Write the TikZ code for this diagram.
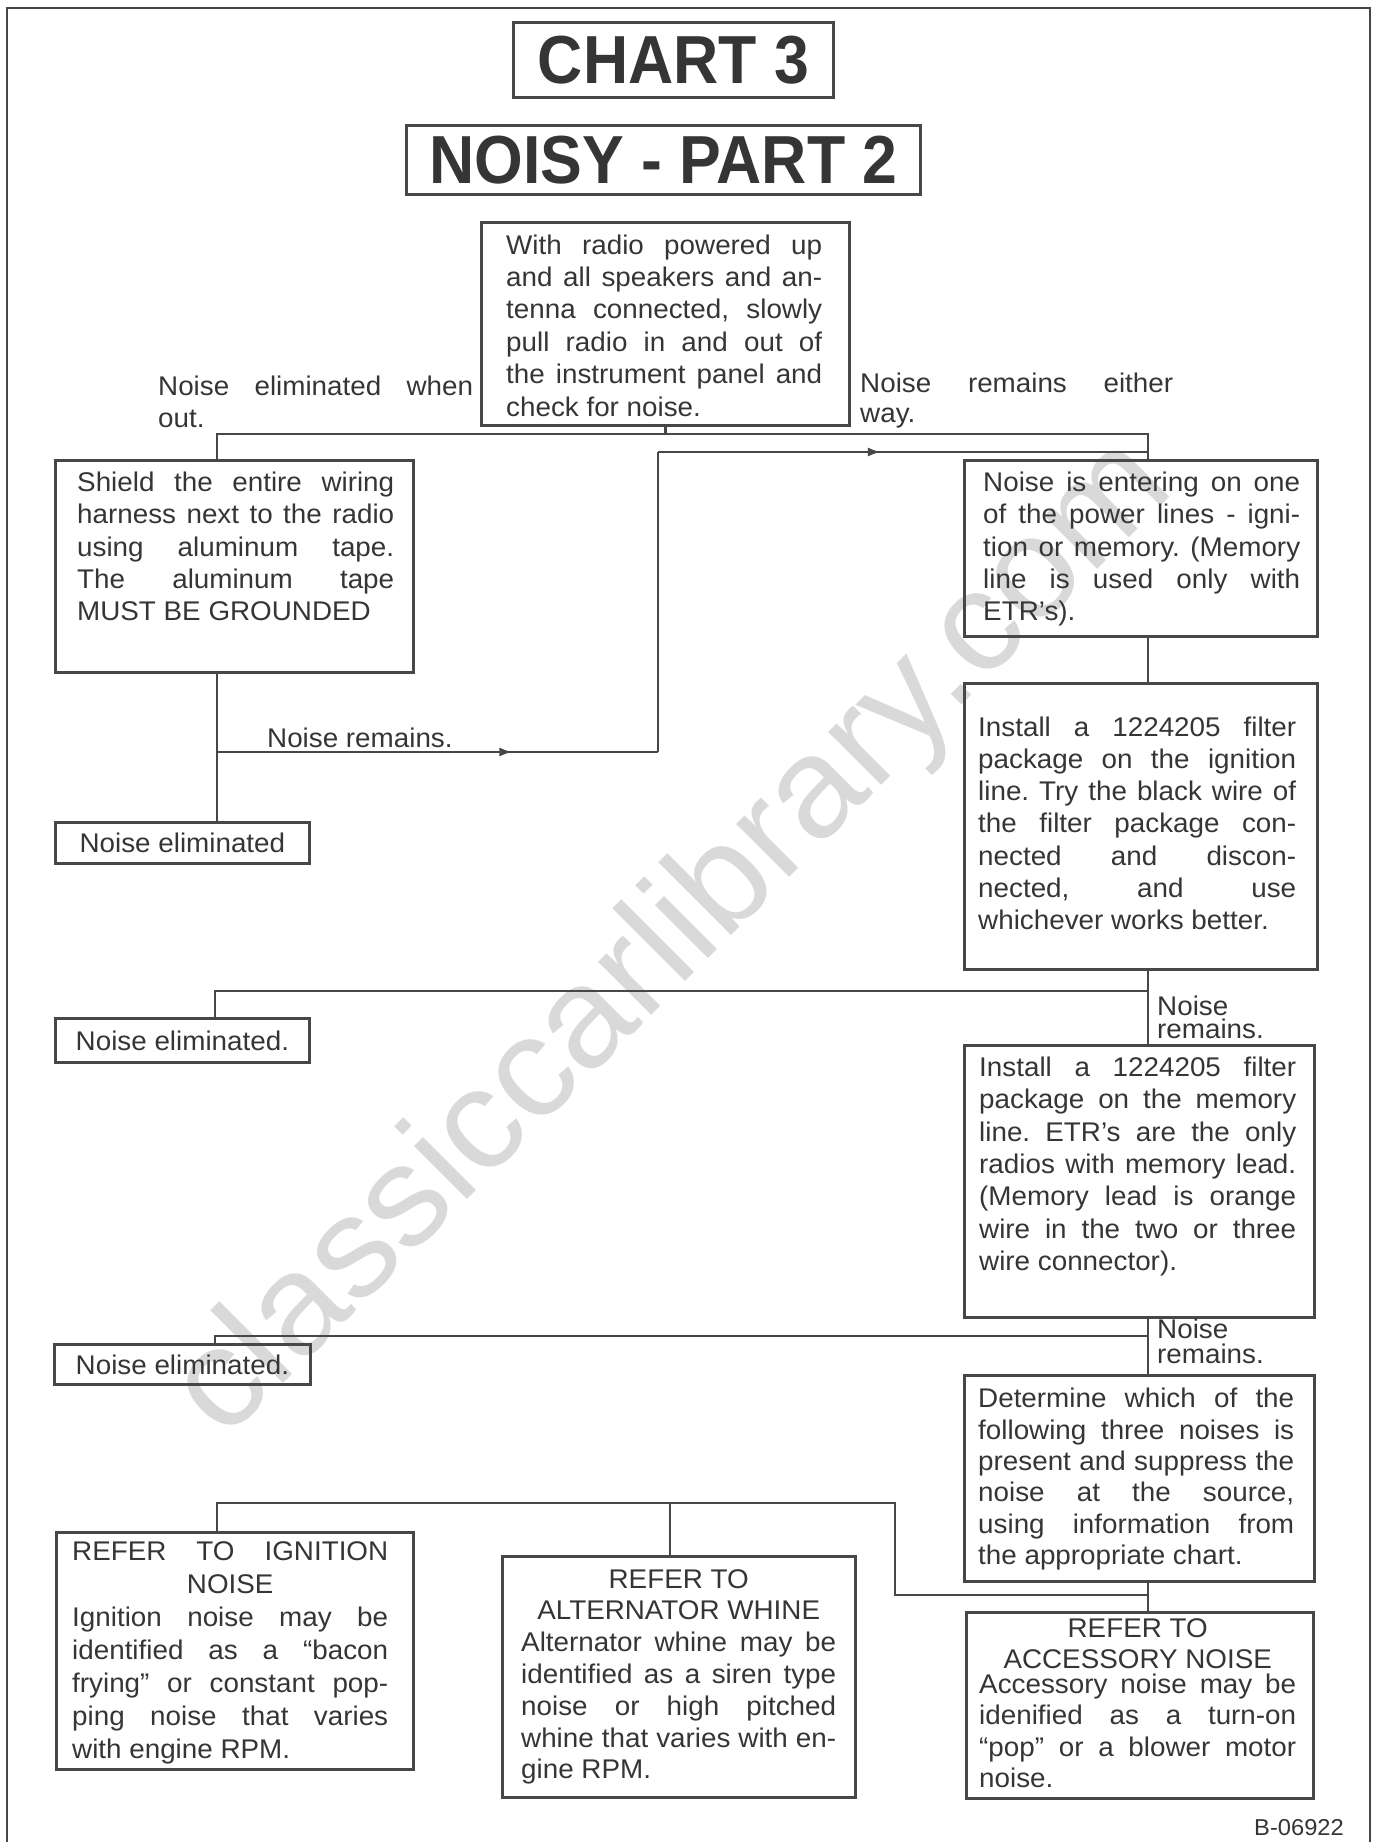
\documentclass[tikz,border=0pt]{standalone}
\usepackage{fontspec}
\setmainfont{Liberation Sans}[FakeStretch=1.03]
\newfontfamily\titlefam{Liberation Sans}[FakeStretch=0.92]
\usetikzlibrary{arrows.meta,decorations.markings}
\definecolor{ink}{HTML}{353535}
\definecolor{rule}{HTML}{474747}
\definecolor{wmark}{HTML}{D9D9D9}
\newcommand\bodyfont[1][32.3]{\fontsize{27}{#1}\selectfont}
\newcommand\titlefont{\titlefam\bfseries\fontsize{68}{68}\selectfont}
\frenchspacing

\tikzset{
  stepbox/.style={draw=rule, line width=2.8pt, inner sep=0pt, anchor=north west, text=ink, font=\bodyfont},
  boxtext/.style={anchor=base west, inner sep=0pt, align=justify, text=ink, font=\bodyfont},
  note/.style={anchor=base west, inner sep=0pt, align=left, text=ink, font=\bodyfont},
  wire/.style={draw=rule, line width=2.4pt},
  midarrow/.style={postaction={decorate}, decoration={markings, mark=at position #1 with {\arrow{Latex[length=13pt,width=9pt]}}}},
}

\begin{document}
\begin{tikzpicture}[x=1pt,y=-1pt]
\useasboundingbox (0,0) rectangle (1373,1842);
% watermark, behind everything
\node[rotate=45, text=wmark, font=\fontsize{142}{142}\selectfont] (wm) at (675,940) {classiccarlibrary.com};
% page frame
\draw[rule, line width=2pt] (7,1842) -- (7,8) -- (1370,8) -- (1370,1842);

% titles
\node[stepbox, minimum width=320pt, minimum height=75pt, font=\titlefont] (chart) at (512,21) {CHART 3};
\node[stepbox, minimum width=514pt, minimum height=69pt, font=\titlefont] (part) at (405,124) {NOISY - PART 2};

% boxes
\node[stepbox, minimum width=368pt, minimum height=203pt] (radio) at (480,221) {};
\node[stepbox, minimum width=358pt, minimum height=212pt] (shield) at (54,459) {};
\node[stepbox, minimum width=254pt, minimum height=41pt] (elimA) at (54,821) {Noise eliminated};
\node[stepbox, minimum width=353pt, minimum height=176pt] (entering) at (963,459) {};
\node[stepbox, minimum width=353pt, minimum height=286pt] (ignfilter) at (963,682) {};
\node[stepbox, minimum width=254pt, minimum height=44pt] (elimB) at (54,1017) {Noise eliminated.};
\node[stepbox, minimum width=350pt, minimum height=272pt] (memfilter) at (963,1044) {};
\node[stepbox, minimum width=256pt, minimum height=40pt] (elimC) at (53,1343) {Noise eliminated.};
\node[stepbox, minimum width=350pt, minimum height=206pt] (determine) at (963,1374) {};
\node[stepbox, minimum width=357pt, minimum height=237pt] (ignref) at (55,1531) {};
\node[stepbox, minimum width=353pt, minimum height=241pt] (altref) at (501,1555) {};
\node[stepbox, minimum width=347pt, minimum height=186pt] (accref) at (965,1611) {};

% box texts
\node[boxtext, text width=316pt, font={\bodyfont[32.4]}] (radio-t) at (506,254) {With radio powered up\linebreak and all speakers and an-\linebreak tenna connected, slowly\linebreak pull radio in and out of\linebreak the instrument panel and\linebreak check for noise.};
\node[boxtext, text width=317pt] (shield-t) at (77,491.5) {\parfillskip=0pt Shield the entire wiring\linebreak harness next to the radio\linebreak using aluminum tape.\linebreak The aluminum tape\linebreak MUST BE GROUNDED};
\node[boxtext, text width=317pt] (entering-t) at (983,491.5) {Noise is entering on one\linebreak of the power lines - igni-\linebreak tion or memory. (Memory\linebreak line is used only with\linebreak ETR’s).};
\node[boxtext, text width=318pt] (ignfilter-t) at (978,736) {Install a 1224205 filter\linebreak package on the ignition\linebreak line. Try the black wire of\linebreak the filter package con-\linebreak nected and discon-\linebreak nected, and use\linebreak whichever works better.};
\node[boxtext, text width=317pt] (memfilter-t) at (979,1076.5) {Install a 1224205 filter\linebreak package on the memory\linebreak line. ETR’s are the only\linebreak radios with memory lead.\linebreak (Memory lead is orange\linebreak wire in the two or three\linebreak wire connector).};
\node[boxtext, text width=316pt, font={\bodyfont[31.4]}] (determine-t) at (978,1407.6) {Determine which of the\linebreak following three noises is\linebreak present and suppress the\linebreak noise at the source,\linebreak using information from\linebreak the appropriate chart.};
\node[boxtext, text width=316pt, font={\bodyfont[33]}] (ignref-t) at (72,1560) {{\parfillskip=0pt REFER\hfill TO\hfill IGNITION\par}{\centering NOISE\par}Ignition noise may be\linebreak identified as a “bacon\linebreak frying” or constant pop-\linebreak ping noise that varies\linebreak with engine RPM.};
\node[boxtext, text width=315pt, font={\bodyfont[31.8]}] (altref-t) at (521,1588) {{\centering REFER TO\\ALTERNATOR WHINE\par}Alternator whine may be\linebreak identified as a siren type\linebreak noise or high pitched\linebreak whine that varies with en-\linebreak gine RPM.};
\node[boxtext, text width=317pt, font={\bodyfont[31.5]}] (accref-t) at (979,1637) {{\centering REFER TO\\ACCESSORY NOISE\par}\vspace{-7pt}Accessory noise may be\linebreak idenified as a turn-on\linebreak “pop” or a blower motor\linebreak noise.};

% branch labels
\node[boxtext, text width=315pt, font={\bodyfont[32]}] (lblout) at (158,395) {Noise eliminated when\linebreak out.};
\node[boxtext, text width=313pt, font={\bodyfont[30]}] (lblway) at (860,392) {Noise remains either\linebreak way.};
\node[note] (lblrem) at (267,747) {Noise remains.};
\node[note, font={\bodyfont[23]}] (lblremB) at (1157,1038) {Noise\\remains.};
\node[note, font={\bodyfont[25]}] (lblremC) at (1157,1363) {Noise\\remains.};
\node[anchor=base east, inner sep=0pt, text=ink, font=\fontsize{23}{23}\selectfont] (code) at (1344,1835) {B-06922};

% junction points
\coordinate (busL) at (217,434);
\coordinate (busR) at (1148,434);
\coordinate (loopL) at (217,752);
\coordinate (loopM) at (658,752);
\coordinate (loopT) at (658,452);
\coordinate (busB) at (215,991);
\coordinate (busC) at (215,1336);
\coordinate (busDL) at (217,1503);
\coordinate (busDM) at (670,1503);
\coordinate (busDR) at (895,1503);
\coordinate (busDD) at (895,1595);

% connectors
\draw[wire] (radio.south) -- (radio.south |- busL);
\draw[wire] (shield.north -| busL) -- (busL) -- (busR) -- (entering.north -| busR);
\draw[wire] (shield.south -| busL) -- (elimA.north -| busL);
\draw[wire, midarrow=0.67] (loopL) -- (loopM);
\draw[wire] (loopM) -- (loopT);
\draw[wire, midarrow=0.455] (loopT) -- (loopT -| busR);
\draw[wire] (entering.south -| busR) -- (ignfilter.north -| busR);
\draw[wire] (ignfilter.south -| busR) -- (memfilter.north -| busR);
\draw[wire] (busB -| busR) -- (busB) -- (elimB.north -| busB);
\draw[wire] (memfilter.south -| busR) -- (determine.north -| busR);
\draw[wire] (busC -| busR) -- (busC) -- (elimC.north -| busC);
\draw[wire] (ignref.north -| busDL) -- (busDL) -- (busDR) -- (busDD) -- (busDD -| busR);
\draw[wire] (busDM) -- (altref.north -| busDM);
\draw[wire] (determine.south -| busR) -- (accref.north -| busR);
\end{tikzpicture}
\end{document}
